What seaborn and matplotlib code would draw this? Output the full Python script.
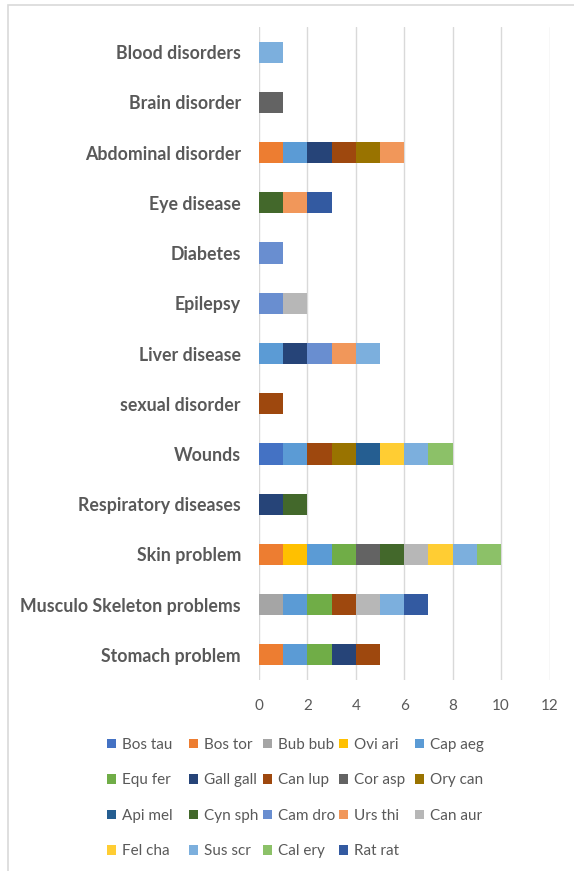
import numpy as np
import seaborn as sns
import matplotlib.pyplot as plt
from matplotlib.patches import Rectangle, Patch

# Disorder categories, listed top to bottom
categories = ["Blood disorders", "Brain disorder", "Abdominal disorder", "Eye disease",
              "Diabetes", "Epilepsy", "Liver disease", "sexual disorder", "Wounds",
              "Respiratory diseases", "Skin problem", "Musculo Skeleton problems",
              "Stomach problem"]

species = ["Bos tau", "Bos tor", "Bub bub", "Ovi ari", "Cap aeg",
           "Equ fer", "Gall gall", "Can lup", "Cor asp", "Ory can",
           "Api mel", "Cyn sph", "Cam dro", "Urs thi", "Can aur",
           "Fel cha", "Sus scr", "Cal ery", "Rat rat"]

# Number of uses per species, in category order
bos_tau   = [0, 0, 0, 0, 0, 0, 0, 0, 1, 0, 0, 0, 0]
bos_tor   = [0, 0, 1, 0, 0, 0, 0, 0, 0, 0, 1, 0, 1]
bub_bub   = [0, 0, 0, 0, 0, 0, 0, 0, 0, 0, 0, 1, 0]
ovi_ari   = [0, 0, 0, 0, 0, 0, 0, 0, 0, 0, 1, 0, 0]
cap_aeg   = [0, 0, 1, 0, 0, 0, 1, 0, 1, 0, 1, 1, 1]
equ_fer   = [0, 0, 0, 0, 0, 0, 0, 0, 0, 0, 1, 1, 1]
gall_gall = [0, 0, 1, 0, 0, 0, 1, 0, 0, 1, 0, 0, 1]
can_lup   = [0, 0, 1, 0, 0, 0, 0, 1, 1, 0, 0, 1, 1]
cor_asp   = [0, 1, 0, 0, 0, 0, 0, 0, 0, 0, 1, 0, 0]
ory_can   = [0, 0, 1, 0, 0, 0, 0, 0, 1, 0, 0, 0, 0]
api_mel   = [0, 0, 0, 0, 0, 0, 0, 0, 1, 0, 0, 0, 0]
cyn_sph   = [0, 0, 0, 1, 0, 0, 0, 0, 0, 1, 1, 0, 0]
cam_dro   = [0, 0, 0, 0, 1, 1, 1, 0, 0, 0, 0, 0, 0]
urs_thi   = [0, 0, 1, 1, 0, 0, 1, 0, 0, 0, 0, 0, 0]
can_aur   = [0, 0, 0, 0, 0, 1, 0, 0, 0, 0, 1, 1, 0]
fel_cha   = [0, 0, 0, 0, 0, 0, 0, 0, 1, 0, 1, 0, 0]
sus_scr   = [1, 0, 0, 0, 0, 0, 1, 0, 1, 0, 1, 1, 0]
cal_ery   = [0, 0, 0, 0, 0, 0, 0, 0, 1, 0, 1, 0, 0]
rat_rat   = [0, 0, 0, 1, 0, 0, 0, 0, 0, 0, 0, 1, 0]

series = [bos_tau, bos_tor, bub_bub, ovi_ari, cap_aeg, equ_fer, gall_gall, can_lup,
          cor_asp, ory_can, api_mel, cyn_sph, cam_dro, urs_thi, can_aur, fel_cha,
          sus_scr, cal_ery, rat_rat]

colors = ["#4472C4", "#ED7D31", "#A5A5A5", "#FFC000", "#5B9BD5",
          "#70AD47", "#264478", "#9E480E", "#636363", "#997300",
          "#255E91", "#43682B", "#698ED0", "#F1975A", "#B7B7B7",
          "#FFCD33", "#7CAFDD", "#8CC168", "#335AA1"]

xticks = [0, 2, 4, 6, 8, 10, 12]

sns.set_style("white")
plt.rcParams["font.family"] = ["Lato", "DejaVu Sans"]

W, H = 574, 871
fig = plt.figure(figsize=(W / 100, H / 100), dpi=100)
ax = fig.add_axes([259 / W, 1 - 680 / H, (549.5 - 259) / W, (680 - 27) / H])

left = np.zeros(len(categories))
for name, vals, col in zip(species, series, colors):
    vals = np.array(vals, dtype=float)
    sns.barplot(x=vals, y=categories, order=categories, orient="h", color=col,
                saturation=1, width=0.42, errorbar=None, left=left,
                edgecolor="none", linewidth=0, ax=ax)
    left = left + vals

ax.set_xlim(0, 12)
ax.set_ylim(len(categories) - 0.5, -0.5)
ax.set_xticks(xticks)
ax.set_xticklabels([str(t) for t in xticks])
ax.set_xlabel("")
ax.set_ylabel("")
ax.grid(axis="x", color="#D9D9D9", linewidth=1)
ax.grid(axis="y", visible=False)
ax.set_axisbelow(True)
for s in ax.spines.values():
    s.set_visible(False)
ax.tick_params(axis="both", length=0)
ax.tick_params(axis="y", pad=13, labelsize=12.8, labelcolor="#595959")
ax.tick_params(axis="x", pad=14, labelsize=11, labelcolor="#595959")
for lab in ax.get_yticklabels():
    lab.set_fontweight("bold")

# Legend: five fixed-width columns, filled row by row
ncol = 5
col_x = [107, 189, 263, 339, 415]
for c in range(ncol):
    idx = [c + ncol * r for r in range(4) if c + ncol * r < len(species)]
    hs = [Patch(facecolor=colors[i], edgecolor="none") for i in idx]
    leg = fig.legend(hs, [species[i] for i in idx], ncol=1, loc="upper left",
                     bbox_to_anchor=(col_x[c] / W, 1 - 738 / H),
                     frameon=False, fontsize=11, handlelength=0.6, handleheight=0.6,
                     handletextpad=0.35, labelspacing=1.4,
                     borderaxespad=0, borderpad=0)
    for t in leg.get_texts():
        t.set_color("#595959")

# Chart border
fig.patches.append(Rectangle((7.5 / W, -0.05), 1.1, 1 - 5.5 / H + 0.05,
                             transform=fig.transFigure, fill=False,
                             edgecolor="#D9D9D9", linewidth=1.2))

fig.savefig("out.png", dpi=100)
